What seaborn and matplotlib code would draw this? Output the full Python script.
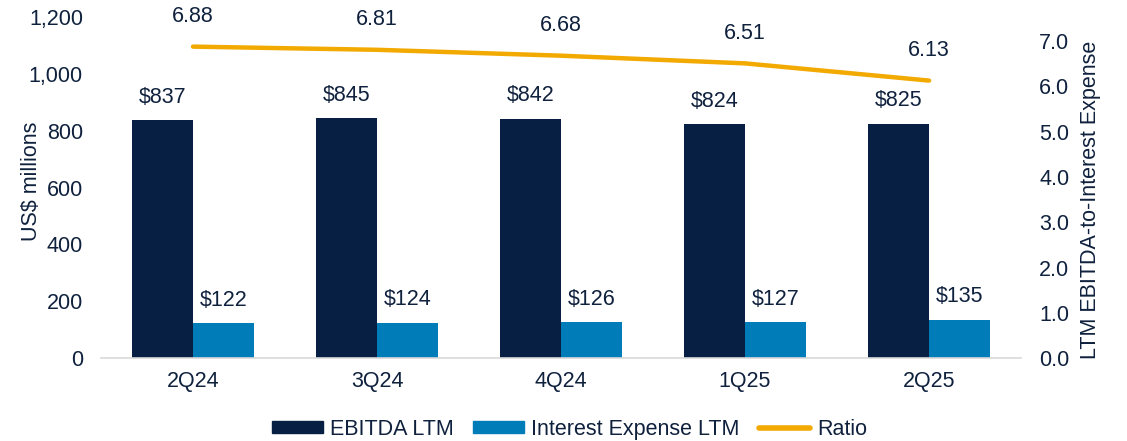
import numpy as np
import pandas as pd
import seaborn as sns
import matplotlib.pyplot as plt

quarters = ["2Q24", "3Q24", "4Q24", "1Q25", "2Q25"]
ebitda = [837, 845, 842, 824, 825]
interest = [122, 124, 126, 127, 135]
ratio = [6.88, 6.81, 6.68, 6.51, 6.13]

navy = "#061f42"
blue = "#007cb9"
gold = "#f2a900"
text_color = "#0f213d"
fs = 15.5

df = pd.DataFrame({
    "quarter": quarters * 2,
    "value": ebitda + interest,
    "series": ["EBITDA LTM"] * len(quarters) + ["Interest Expense LTM"] * len(quarters),
})

sns.set_theme(style="white")
plt.rcParams["font.family"] = ["Liberation Sans", "DejaVu Sans"]
plt.rcParams["text.color"] = text_color

fig = plt.figure(figsize=(11.27, 4.41), dpi=100)
ax = fig.add_axes([0.0896, 0.188, 0.8164, 0.773])
sns.barplot(data=df, x="quarter", y="value", hue="series",
            palette=[navy, blue], width=0.66, gap=0, ax=ax, legend=False,
            saturation=1, edgecolor="none")
ax.set_xlim(-0.5, len(quarters) - 0.5)
ax.set_ylim(0, 1200)
ax.set_yticks(range(0, 1201, 200))
ax.set_yticklabels([f"{v:,}" for v in range(0, 1201, 200)])
ax.set_xlabel("")
ax.set_ylabel("US$ millions", fontsize=fs, color=text_color)
ax.yaxis.set_label_coords(-0.064, 0.52)
ax.tick_params(axis="y", length=0, labelsize=fs, colors=text_color, pad=13)
ax.tick_params(axis="x", length=0, labelsize=fs, colors=text_color, pad=9)
for side in ["top", "left", "right"]:
    ax.spines[side].set_visible(False)
ax.spines["bottom"].set_color("#d9d9d9")
ax.spines["bottom"].set_linewidth(1.2)

for cont in ax.containers:
    ax.bar_label(cont, labels=[f"${int(v)}" for v in cont.datavalues],
                 padding=9, fontsize=fs, color=text_color)

ax2 = ax.twinx()
sns.lineplot(x=np.arange(len(quarters)), y=ratio, ax=ax2, color=gold,
             linewidth=3.2, solid_capstyle="round")
ax2.set_ylim(0, 7.53)
ax2.set_yticks(np.arange(0, 7.1, 1.0))
ax2.set_yticklabels([f"{v:.1f}" for v in np.arange(0, 7.1, 1.0)])
ax2.set_ylabel("LTM EBITDA-to-Interest Expense", fontsize=fs, color=text_color)
ax2.yaxis.set_label_coords(1.064, 0.463)
ax2.tick_params(axis="y", length=0, labelsize=fs, colors=text_color, pad=13)
for side in ["top", "left", "right", "bottom"]:
    ax2.spines[side].set_visible(False)
for i, r in enumerate(ratio):
    ax2.annotate(f"{r:.2f}", (i, r), xytext=(0, 14), textcoords="offset points",
                 ha="center", va="bottom", fontsize=fs, color=text_color)

handles = [
    plt.Rectangle((0, 0), 1, 1, color=navy),
    plt.Rectangle((0, 0), 1, 1, color=blue),
    plt.Line2D([0], [0], color=gold, linewidth=4, solid_capstyle="round"),
]
fig.legend(handles, ["EBITDA LTM", "Interest Expense LTM", "Ratio"],
           loc="center", bbox_to_anchor=(0.505, 0.027), ncol=3, frameon=False,
           fontsize=fs, handlelength=2.4, handleheight=0.5, handletextpad=0.3,
           columnspacing=0.9)

fig.savefig("out.png", dpi=100)
